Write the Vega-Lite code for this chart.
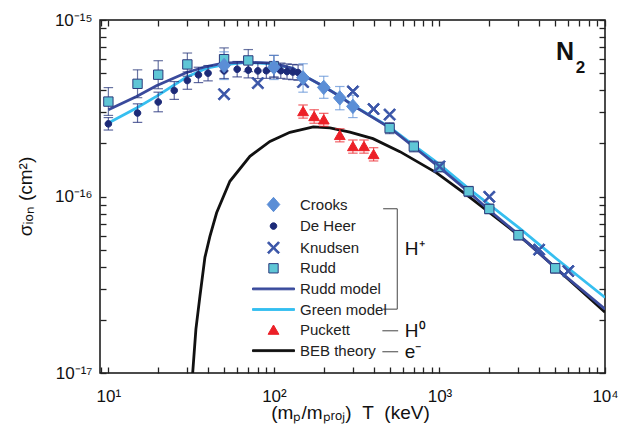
{
  "$schema": "https://vega.github.io/schema/vega-lite/v6.json",
  "width": 505,
  "height": 353,
  "autosize": {"type": "none"},
  "padding": {"left": 100, "top": 20, "right": 23, "bottom": 60},
  "background": "white",
  "config": {
    "view": {"stroke": "#111", "strokeWidth": 1.5},
    "font": "Liberation Sans",
    "axis": {"domain": false, "zindex": 1, "ticks": true, "tickSize": 6, "offset": -6, "tickColor": "#222", "tickWidth": 1.3, "tickOpacity": 1, "grid": false, "labelFont": "Liberation Sans", "labelFontSize": 17, "labelColor": "#111", "titleFont": "Liberation Sans", "titleFontSize": 19, "titleFontWeight": "normal", "titleColor": "#111"},
    "legend": {"orient": "none", "legendX": 166, "legendY": 177, "labelFont": "Liberation Sans", "labelFontSize": 15, "labelColor": "#222", "labelOffset": 19, "symbolSize": 144, "symbolStrokeWidth": 1, "symbolOpacity": 1, "rowPadding": 4.6, "padding": 0}
  },
  "datasets": {
    "curves": [
      {"series": "BEB theory", "x": 32.3, "y": 1.0e-17},
      {"series": "BEB theory", "x": 33.79, "y": 1.773e-17},
      {"series": "BEB theory", "x": 35.72, "y": 2.72e-17},
      {"series": "BEB theory", "x": 38.3, "y": 4.52e-17},
      {"series": "BEB theory", "x": 41.05, "y": 5.94e-17},
      {"series": "BEB theory", "x": 45.07, "y": 8.09e-17},
      {"series": "BEB theory", "x": 54.2, "y": 1.22e-16},
      {"series": "BEB theory", "x": 71.6, "y": 1.69e-16},
      {"series": "BEB theory", "x": 94.6, "y": 2.05e-16},
      {"series": "BEB theory", "x": 124.9, "y": 2.31e-16},
      {"series": "BEB theory", "x": 172.8, "y": 2.48e-16},
      {"series": "BEB theory", "x": 218, "y": 2.445e-16},
      {"series": "BEB theory", "x": 287.7, "y": 2.314e-16},
      {"series": "BEB theory", "x": 396.6, "y": 2.127e-16},
      {"series": "BEB theory", "x": 577.1, "y": 1.796e-16},
      {"series": "BEB theory", "x": 961, "y": 1.361e-16},
      {"series": "BEB theory", "x": 1493, "y": 1.004e-16},
      {"series": "BEB theory", "x": 2667, "y": 6.594e-17},
      {"series": "BEB theory", "x": 3441, "y": 5.427e-17},
      {"series": "BEB theory", "x": 5470, "y": 3.673e-17},
      {"series": "BEB theory", "x": 8312, "y": 2.585e-17},
      {"series": "BEB theory", "x": 10000, "y": 2.211e-17},
      {"series": "Green model", "x": 10, "y": 2.61e-16},
      {"series": "Green model", "x": 14.8, "y": 3.17e-16},
      {"series": "Green model", "x": 19.5, "y": 3.69e-16},
      {"series": "Green model", "x": 29.7, "y": 4.75e-16},
      {"series": "Green model", "x": 39.2, "y": 5.33e-16},
      {"series": "Green model", "x": 49.4, "y": 5.57e-16},
      {"series": "Green model", "x": 68.4, "y": 5.75e-16},
      {"series": "Green model", "x": 98.6, "y": 5.65e-16},
      {"series": "Green model", "x": 130.9, "y": 5.3e-16},
      {"series": "Green model", "x": 150, "y": 4.87e-16},
      {"series": "Green model", "x": 200, "y": 4.2e-16},
      {"series": "Green model", "x": 250, "y": 3.7e-16},
      {"series": "Green model", "x": 300, "y": 3.29e-16},
      {"series": "Green model", "x": 500, "y": 2.47e-16},
      {"series": "Green model", "x": 700, "y": 1.95e-16},
      {"series": "Green model", "x": 1000, "y": 1.52e-16},
      {"series": "Green model", "x": 1500, "y": 1.11e-16},
      {"series": "Green model", "x": 2000, "y": 9.0e-17},
      {"series": "Green model", "x": 3000, "y": 6.68e-17},
      {"series": "Green model", "x": 5000, "y": 4.5e-17},
      {"series": "Green model", "x": 10000, "y": 2.68e-17},
      {"series": "Rudd model", "x": 10, "y": 3.1e-16},
      {"series": "Rudd model", "x": 14.8, "y": 3.69e-16},
      {"series": "Rudd model", "x": 19.5, "y": 4.24e-16},
      {"series": "Rudd model", "x": 29.7, "y": 5.04e-16},
      {"series": "Rudd model", "x": 39.2, "y": 5.45e-16},
      {"series": "Rudd model", "x": 49.4, "y": 5.69e-16},
      {"series": "Rudd model", "x": 68.4, "y": 5.77e-16},
      {"series": "Rudd model", "x": 98.6, "y": 5.69e-16},
      {"series": "Rudd model", "x": 130.9, "y": 5.3e-16},
      {"series": "Rudd model", "x": 150, "y": 4.87e-16},
      {"series": "Rudd model", "x": 200, "y": 4.2e-16},
      {"series": "Rudd model", "x": 250, "y": 3.69e-16},
      {"series": "Rudd model", "x": 301, "y": 3.27e-16},
      {"series": "Rudd model", "x": 502, "y": 2.45e-16},
      {"series": "Rudd model", "x": 695, "y": 1.92e-16},
      {"series": "Rudd model", "x": 983, "y": 1.48e-16},
      {"series": "Rudd model", "x": 1490, "y": 1.07e-16},
      {"series": "Rudd model", "x": 1972, "y": 8.44e-17},
      {"series": "Rudd model", "x": 2993, "y": 6.1e-17},
      {"series": "Rudd model", "x": 4989, "y": 3.96e-17},
      {"series": "Rudd model", "x": 10000, "y": 2.3e-17}
    ],
    "points": [
      {"series": "Rudd", "x": 10, "y": 3.45e-16, "lo": 2.88e-16, "hi": 4.14e-16},
      {"series": "Rudd", "x": 15, "y": 4.35e-16, "lo": 3.63e-16, "hi": 5.22e-16},
      {"series": "Rudd", "x": 20, "y": 4.9e-16, "lo": 4.08e-16, "hi": 5.88e-16},
      {"series": "Rudd", "x": 30, "y": 5.6e-16, "lo": 4.8e-16, "hi": 6.5e-16},
      {"series": "Rudd", "x": 50, "y": 6.0e-16, "lo": 5.15e-16, "hi": 6.95e-16},
      {"series": "Rudd", "x": 70, "y": 5.9e-16, "lo": 5.1e-16, "hi": 6.8e-16},
      {"series": "Rudd", "x": 100, "y": 5.45e-16, "lo": 4.7e-16, "hi": 6.3e-16},
      {"series": "Rudd", "x": 500, "y": 2.44e-16, "lo": 2.27e-16, "hi": 2.62e-16},
      {"series": "Rudd", "x": 700, "y": 1.92e-16, "lo": 1.79e-16, "hi": 2.06e-16},
      {"series": "Rudd", "x": 1000, "y": 1.47e-16, "lo": 1.38e-16, "hi": 1.56e-16},
      {"series": "Rudd", "x": 1500, "y": 1.07e-16, "lo": 1.0e-16, "hi": 1.14e-16},
      {"series": "Rudd", "x": 2000, "y": 8.5e-17, "lo": 8.0e-17, "hi": 9.05e-17},
      {"series": "Rudd", "x": 3000, "y": 6.04e-17, "lo": 5.68e-17, "hi": 6.42e-17},
      {"series": "Rudd", "x": 5000, "y": 3.92e-17, "lo": 3.68e-17, "hi": 4.17e-17},
      {"series": "De Heer", "x": 10, "y": 2.58e-16, "lo": 2.38e-16, "hi": 2.8e-16},
      {"series": "De Heer", "x": 15, "y": 2.97e-16, "lo": 2.63e-16, "hi": 3.35e-16},
      {"series": "De Heer", "x": 20, "y": 3.43e-16, "lo": 3.02e-16, "hi": 3.9e-16},
      {"series": "De Heer", "x": 25, "y": 3.99e-16, "lo": 3.55e-16, "hi": 4.48e-16},
      {"series": "De Heer", "x": 30, "y": 4.54e-16, "lo": 4.05e-16, "hi": 5.08e-16},
      {"series": "De Heer", "x": 35, "y": 4.89e-16, "lo": 4.42e-16, "hi": 5.4e-16},
      {"series": "De Heer", "x": 40, "y": 5.0e-16, "lo": 4.52e-16, "hi": 5.52e-16},
      {"series": "De Heer", "x": 50, "y": 5.15e-16, "lo": 4.66e-16, "hi": 5.7e-16},
      {"series": "De Heer", "x": 60, "y": 5.26e-16, "lo": 4.76e-16, "hi": 5.82e-16},
      {"series": "De Heer", "x": 70, "y": 5.2e-16, "lo": 4.7e-16, "hi": 5.75e-16},
      {"series": "De Heer", "x": 80, "y": 5.15e-16, "lo": 4.66e-16, "hi": 5.7e-16},
      {"series": "De Heer", "x": 90, "y": 5.16e-16, "lo": 4.67e-16, "hi": 5.7e-16},
      {"series": "De Heer", "x": 100, "y": 5.26e-16, "lo": 4.76e-16, "hi": 5.82e-16},
      {"series": "De Heer", "x": 110, "y": 5.16e-16, "lo": 4.67e-16, "hi": 5.7e-16},
      {"series": "De Heer", "x": 120, "y": 5.1e-16, "lo": 4.62e-16, "hi": 5.64e-16},
      {"series": "De Heer", "x": 130, "y": 5.07e-16, "lo": 4.59e-16, "hi": 5.6e-16},
      {"series": "De Heer", "x": 140, "y": 5.04e-16, "lo": 4.56e-16, "hi": 5.57e-16},
      {"series": "Knudsen", "x": 50, "y": 3.8e-16, "lo": null, "hi": null},
      {"series": "Knudsen", "x": 80, "y": 4.39e-16, "lo": null, "hi": null},
      {"series": "Knudsen", "x": 150, "y": 4.45e-16, "lo": null, "hi": null},
      {"series": "Knudsen", "x": 300, "y": 3.94e-16, "lo": null, "hi": null},
      {"series": "Knudsen", "x": 400, "y": 3.13e-16, "lo": null, "hi": null},
      {"series": "Knudsen", "x": 500, "y": 2.91e-16, "lo": null, "hi": null},
      {"series": "Knudsen", "x": 1000, "y": 1.48e-16, "lo": null, "hi": null},
      {"series": "Knudsen", "x": 2000, "y": 9.96e-17, "lo": null, "hi": null},
      {"series": "Knudsen", "x": 4000, "y": 5.0e-17, "lo": null, "hi": null},
      {"series": "Knudsen", "x": 6000, "y": 3.78e-17, "lo": null, "hi": null},
      {"series": "Crooks", "x": 50, "y": 5.52e-16, "lo": 4.6e-16, "hi": 6.6e-16},
      {"series": "Crooks", "x": 100, "y": 5.4e-16, "lo": 4.6e-16, "hi": 6.3e-16},
      {"series": "Crooks", "x": 150, "y": 4.7e-16, "lo": 3.9e-16, "hi": 5.65e-16},
      {"series": "Crooks", "x": 200, "y": 4.15e-16, "lo": 3.6e-16, "hi": 4.8e-16},
      {"series": "Crooks", "x": 250, "y": 3.62e-16, "lo": 3.1e-16, "hi": 4.2e-16},
      {"series": "Crooks", "x": 300, "y": 3.24e-16, "lo": 2.8e-16, "hi": 3.75e-16},
      {"series": "Puckett", "x": 150, "y": 3.03e-16, "lo": 2.78e-16, "hi": 3.3e-16},
      {"series": "Puckett", "x": 175, "y": 2.84e-16, "lo": 2.6e-16, "hi": 3.1e-16},
      {"series": "Puckett", "x": 200, "y": 2.72e-16, "lo": 2.5e-16, "hi": 2.96e-16},
      {"series": "Puckett", "x": 250, "y": 2.22e-16, "lo": 2.04e-16, "hi": 2.42e-16},
      {"series": "Puckett", "x": 300, "y": 1.92e-16, "lo": 1.76e-16, "hi": 2.09e-16},
      {"series": "Puckett", "x": 350, "y": 1.92e-16, "lo": 1.76e-16, "hi": 2.09e-16},
      {"series": "Puckett", "x": 400, "y": 1.73e-16, "lo": 1.59e-16, "hi": 1.89e-16}
    ],
    "bracket": [
      {"x": 457, "x2": 556, "y": 8.52e-17, "y2": 8.52e-17},
      {"x": 556, "x2": 556, "y": 8.52e-17, "y2": 2.3e-17},
      {"x": 457, "x2": 556, "y": 2.3e-17, "y2": 2.3e-17},
      {"x": 452, "x2": 563, "y": 1.734e-17, "y2": 1.734e-17},
      {"x": 452, "x2": 563, "y": 1.319e-17, "y2": 1.319e-17}
    ],
    "notes": [
      {"label": "H⁺", "x": 618, "y": 5.02e-17},
      {"label": "H⁰", "x": 618, "y": 1.734e-17},
      {"label": "e⁻", "x": 618, "y": 1.319e-17}
    ]
  },
  "resolve": {"axis": {"x": "independent", "y": "independent"}},
  "layer": [
    {
      "data": {"name": "curves"},
      "mark": {"type": "line", "strokeWidth": 2.8, "clip": true},
      "encoding": {
        "x": {"field": "x", "type": "quantitative", "scale": {"type": "log", "domain": [8.9, 10000], "nice": false},
          "axis": {"orient": "bottom", "title": "(mₚ/mₚᵣₒⱼ)\u00a0\u00a0T\u00a0\u00a0(keV)", "titleX": 250, "titleY": 51, "titleBaseline": "alphabetic", "titleAnchor": "middle",
            "values": [9,10,20,30,40,50,60,70,80,90,100,200,300,400,500,600,700,800,900,1000,2000,3000,4000,5000,6000,7000,8000,9000,10000],
            "labelExpr": "datum.value == 10 ? '10¹' : datum.value == 100 ? '10²' : datum.value == 1000 ? '10³' : datum.value == 10000 ? '10⁴' : ''",
            "labelPadding": 15, "labelFlush": false, "labelOverlap": false}},
        "y": {"field": "y", "type": "quantitative", "scale": {"type": "log", "domain": [1e-17, 1e-15], "nice": false},
          "axis": {"orient": "left", "title": "σᵢₒₙ (cm²)", "titleX": -81, "titleY": 176, "titleAngle": -90, "titleBaseline": "middle", "titleAnchor": "middle",
            "values": [1e-17,2e-17,3e-17,4e-17,5e-17,6e-17,7e-17,8e-17,9e-17,1e-16,2e-16,3e-16,4e-16,5e-16,6e-16,7e-16,8e-16,9e-16,1e-15],
            "labelExpr": "datum.value == 1e-17 ? '10⁻¹⁷' : datum.value == 1e-16 ? '10⁻¹⁶' : datum.value == 1e-15 ? '10⁻¹⁵' : ''",
            "labelPadding": 8, "labelFlush": false, "labelOverlap": false}},
        "stroke": {"field": "series", "type": "nominal", "title": null,
          "scale": {"domain": ["Crooks", "De Heer", "Knudsen", "Rudd", "Rudd model", "Green model", "Puckett", "BEB theory"],
            "range": ["#5b8ed6", "#1c2a78", "#3a55a8", "#2b3a7c", "#3a4a9c", "#36bff0", "#ec2027", "#111111"]}}
      }
    },
    {
      "data": {"name": "points"},
      "transform": [{"filter": "datum.lo != null"}],
      "mark": {"type": "rule", "strokeWidth": 1.2, "opacity": 0.7},
      "encoding": {
        "x": {"field": "x", "type": "quantitative", "axis": null},
        "y": {"field": "lo", "type": "quantitative", "axis": null},
        "y2": {"field": "hi"},
        "stroke": {"field": "series", "type": "nominal", "title": null}
      }
    },
    {
      "data": {"name": "points"},
      "transform": [{"filter": "datum.lo != null"}],
      "mark": {"type": "point", "shape": "stroke", "filled": false, "size": 90, "strokeWidth": 1.2, "opacity": 0.7},
      "encoding": {
        "x": {"field": "x", "type": "quantitative", "axis": null},
        "y": {"field": "lo", "type": "quantitative", "axis": null},
        "stroke": {"field": "series", "type": "nominal", "title": null}
      }
    },
    {
      "data": {"name": "points"},
      "transform": [{"filter": "datum.lo != null"}],
      "mark": {"type": "point", "shape": "stroke", "filled": false, "size": 90, "strokeWidth": 1.2, "opacity": 0.7},
      "encoding": {
        "x": {"field": "x", "type": "quantitative", "axis": null},
        "y": {"field": "hi", "type": "quantitative", "axis": null},
        "stroke": {"field": "series", "type": "nominal", "title": null}
      }
    },
    {
      "data": {"name": "points"},
      "mark": {"type": "point", "filled": true, "size": 144, "strokeWidth": 1, "opacity": 1},
      "encoding": {
        "x": {"field": "x", "type": "quantitative",
          "axis": {"orient": "top", "title": null, "labels": false,
            "values": [9,10,20,30,40,50,60,70,80,90,100,200,300,400,500,600,700,800,900,1000,2000,3000,4000,5000,6000,7000,8000,9000,10000]}},
        "y": {"field": "y", "type": "quantitative",
          "axis": {"orient": "right", "title": null, "labels": false,
            "values": [1e-17,2e-17,3e-17,4e-17,5e-17,6e-17,7e-17,8e-17,9e-17,1e-16,2e-16,3e-16,4e-16,5e-16,6e-16,7e-16,8e-16,9e-16,1e-15]}},
        "fill": {"field": "series", "type": "nominal", "title": null,
          "scale": {"domain": ["Crooks", "De Heer", "Knudsen", "Rudd", "Rudd model", "Green model", "Puckett", "BEB theory"],
            "range": ["#5b8ed6", "#1c2a78", "#3a55a8", "#5fc6d6", "#3a4a9c", "#36bff0", "#ec2027", "#111111"]}},
        "stroke": {"field": "series", "type": "nominal", "title": null},
        "shape": {"field": "series", "type": "nominal", "title": null,
          "scale": {"domain": ["Crooks", "De Heer", "Knudsen", "Rudd", "Rudd model", "Green model", "Puckett", "BEB theory"],
            "range": [
              "M0,-1.2L1.05,0L0,1.2L-1.05,0Z",
              "M-0.55,0A0.55,0.55,0,1,1,0.55,0A0.55,0.55,0,1,1,-0.55,0Z",
              "M-1,-0.78L-0.78,-1L0,-0.22L0.78,-1L1,-0.78L0.22,0L1,0.78L0.78,1L0,0.22L-0.78,1L-1,0.78L-0.22,0Z",
              "M-0.78,-0.78H0.78V0.78H-0.78Z",
              "M-3.5,-0.15H3.5V0.15H-3.5Z",
              "M-3.5,-0.15H3.5V0.15H-3.5Z",
              "M0,-0.85L0.9,0.7L-0.9,0.7Z",
              "M-3.5,-0.15H3.5V0.15H-3.5Z"
            ]}}
      }
    },
    {
      "data": {"name": "bracket"},
      "mark": {"type": "rule", "color": "#444", "strokeWidth": 1},
      "encoding": {
        "x": {"field": "x", "type": "quantitative", "axis": null},
        "x2": {"field": "x2"},
        "y": {"field": "y", "type": "quantitative", "axis": null},
        "y2": {"field": "y2"}
      }
    },
    {
      "data": {"name": "notes"},
      "mark": {"type": "text", "align": "left", "baseline": "middle", "fontSize": 19, "font": "Liberation Sans", "color": "#111"},
      "encoding": {
        "x": {"field": "x", "type": "quantitative", "axis": null},
        "y": {"field": "y", "type": "quantitative", "axis": null},
        "text": {"field": "label"}
      }
    },
    {
      "data": {"values": [{"label": "N", "x": 5733, "y": 6.6e-16}]},
      "mark": {"type": "text", "align": "center", "baseline": "middle", "fontSize": 25, "fontWeight": "bold", "font": "Liberation Sans", "color": "#111"},
      "encoding": {
        "x": {"field": "x", "type": "quantitative", "axis": null},
        "y": {"field": "y", "type": "quantitative", "axis": null},
        "text": {"field": "label"}
      }
    },
    {
      "data": {"values": [{"label": "2", "x": 7112, "y": 5.36e-16}]},
      "mark": {"type": "text", "align": "center", "baseline": "middle", "fontSize": 17, "fontWeight": "bold", "font": "Liberation Sans", "color": "#111"},
      "encoding": {
        "x": {"field": "x", "type": "quantitative", "axis": null},
        "y": {"field": "y", "type": "quantitative", "axis": null},
        "text": {"field": "label"}
      }
    }
  ]
}
